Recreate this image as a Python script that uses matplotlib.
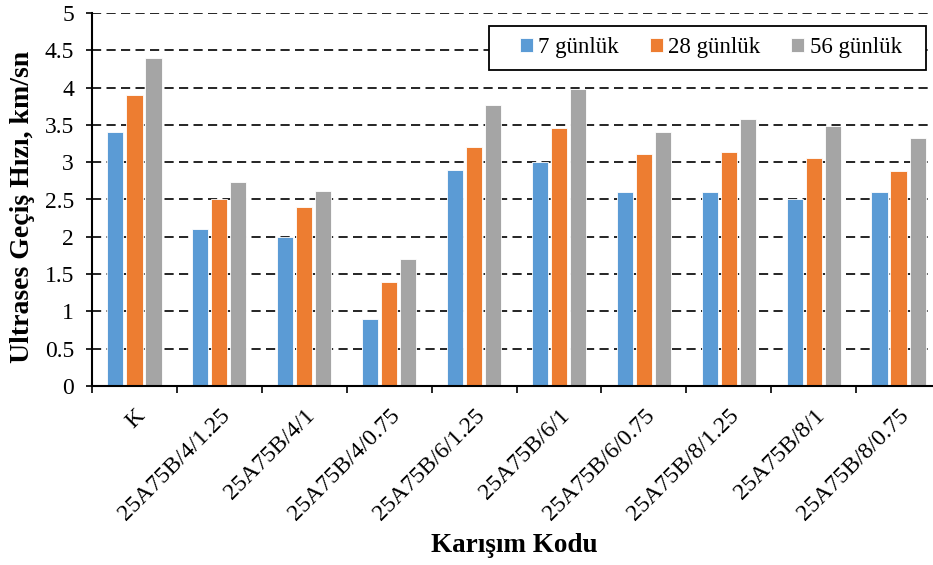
import matplotlib
matplotlib.use("Agg")
import matplotlib.pyplot as plt
import matplotlib.transforms as mtransforms
from matplotlib.patches import Rectangle
import numpy as np

plt.rcParams["font.family"] = ["Liberation Serif", "DejaVu Serif"]

# ── Data ──────────────────────────────────────────────────────────────────────
categories = ["K", "25A75B/4/1.25", "25A75B/4/1", "25A75B/4/0.75",
              "25A75B/6/1.25", "25A75B/6/1", "25A75B/6/0.75",
              "25A75B/8/1.25", "25A75B/8/1", "25A75B/8/0.75"]
series_names = ["7 günlük", "28 günlük", "56 günlük"]
day7 = [3.40, 2.10, 2.00, 0.90, 2.90, 3.00, 2.60, 2.60, 2.50, 2.60]
day28 = [3.90, 2.50, 2.40, 1.40, 3.20, 3.46, 3.11, 3.14, 3.06, 2.88]
day56 = [4.40, 2.74, 2.62, 1.70, 3.77, 3.98, 3.41, 3.58, 3.49, 3.33]
yticks = [0, 0.5, 1, 1.5, 2, 2.5, 3, 3.5, 4, 4.5, 5]
ytick_labels = ["0", "0.5", "1", "1.5", "2", "2.5", "3", "3.5", "4", "4.5", "5"]

colors = ["#5B9BD5", "#ED7D31", "#A5A5A5"]

# ── Figure ────────────────────────────────────────────────────────────────────
W, H = 933, 565
fig = plt.figure(figsize=(W / 100, H / 100), dpi=100)
# axes right edge lies slightly outside the picture, as in the source
ax = fig.add_axes([92 / W, 1 - 386 / H, (941 - 92) / W, (386 - 13) / H])

x = np.arange(len(categories))
offset = 0.224
width = 0.19
for i, (vals, name) in enumerate(zip([day7, day28, day56], series_names)):
    ax.bar(x + (i - 1) * offset, vals, width, color=colors[i], label=name,
           edgecolor="white", linewidth=0.6, zorder=3)

ax.set_xlim(-0.5, len(categories) - 0.5)
ax.set_ylim(0, 5)
ax.set_yticks(yticks)
ax.set_yticklabels(ytick_labels, fontsize=17)

# category labels at centres, tick marks at boundaries
ax.set_xticks(x)
ax.set_xticklabels(categories, rotation=45, ha="right", rotation_mode="anchor",
                   fontsize=17.2)
shift = mtransforms.ScaledTranslation(-3 / 100, 0, fig.dpi_scale_trans)
for lbl in ax.get_xticklabels():
    lbl.set_transform(lbl.get_transform() + shift)
ax.set_xticks(np.arange(len(categories) + 1) - 0.5, minor=True)
ax.tick_params(axis="x", which="major", length=0, pad=14)
ax.tick_params(axis="x", which="minor", length=5, width=1.2, direction="out")
ax.tick_params(axis="y", length=4, width=1.2, direction="out", pad=9)

ax.yaxis.grid(True, color="black", linewidth=1.2, linestyle=(0, (5.5, 3.2)),
              zorder=1)
ax.set_axisbelow(True)
for s in ["top", "right"]:
    ax.spines[s].set_visible(False)
for s in ["left", "bottom"]:
    ax.spines[s].set_linewidth(1.5)
    ax.spines[s].set_zorder(4)

# ── Labels ────────────────────────────────────────────────────────────────────
fig.text(23 / W, 1 - 207 / H, "Ultrases Geçiş Hızı, km/sn", rotation=90,
         ha="center", va="center", fontsize=20, weight="bold")
fig.text(514 / W, 1 - 546 / H, "Karışım Kodu", ha="center", va="center",
         fontsize=19.5, weight="bold")

# ── Legend ────────────────────────────────────────────────────────────────────
ax.add_patch(Rectangle((489 / W, 1 - 70 / H), (926 - 489) / W, 44 / H,
                       transform=fig.transFigure, facecolor="white",
                       edgecolor="black", linewidth=1.3, zorder=5,
                       clip_on=False))
leg = ax.legend(loc="center", bbox_to_anchor=(711 / W, 1 - 48 / H),
                bbox_transform=fig.transFigure, ncol=3, fontsize=16.5,
                frameon=False, handlelength=0.57, handleheight=0.57,
                handletextpad=0.22, columnspacing=1.35, borderpad=0,
                borderaxespad=0)
leg.set_zorder(6)

fig.savefig("out.png", dpi=100, facecolor="white")
